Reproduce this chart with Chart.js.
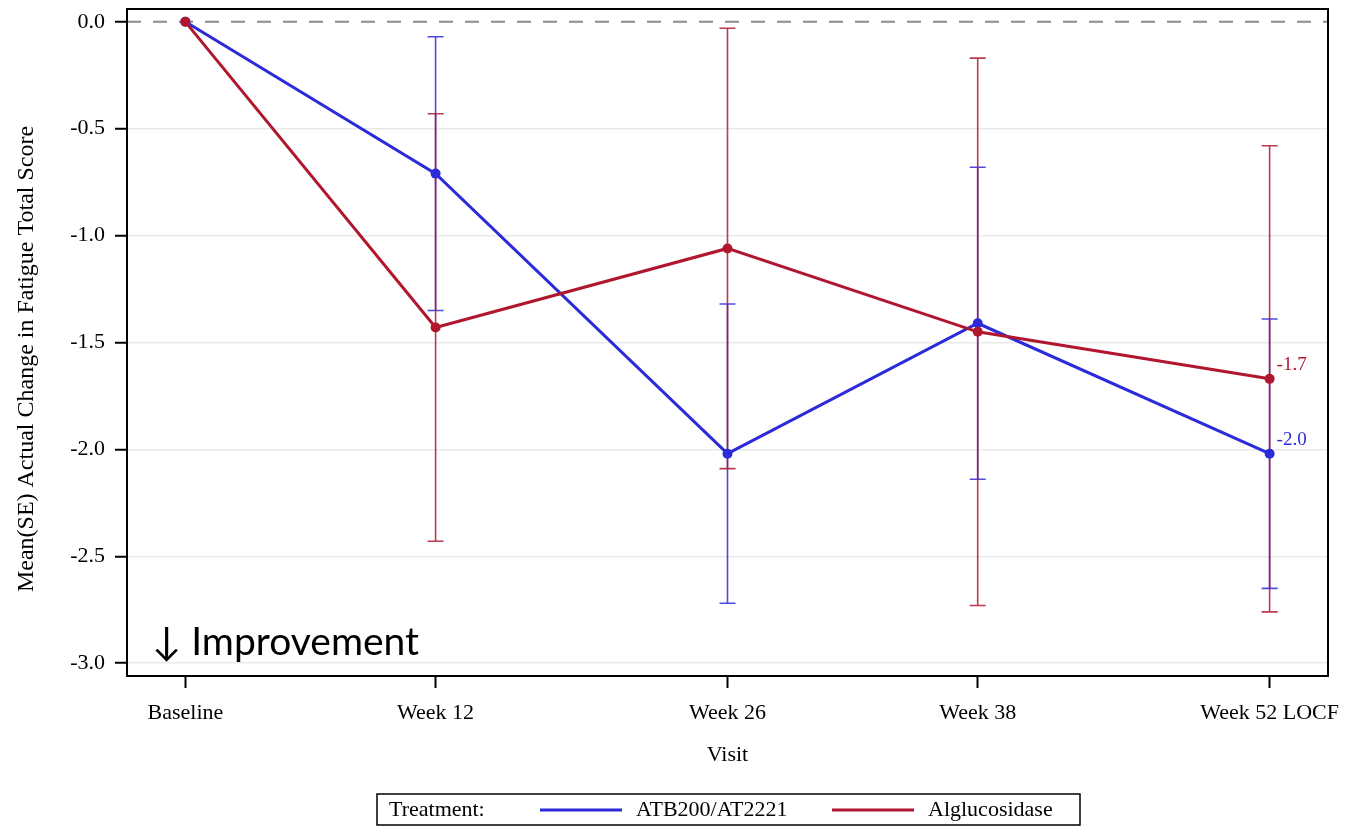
<!DOCTYPE html>
<html>
<head>
<meta charset="utf-8">
<script src="https://cdn.jsdelivr.net/npm/chart.js@4.4.1/dist/chart.umd.min.js"></script>
<style>
  html, body { margin: 0; padding: 0; background: #fff; }
  #wrap { width: 1347px; height: 826px; }
</style>
</head>
<body>
<div id="wrap"><canvas id="fatigueChart" width="1347" height="826"></canvas></div>
<script>
/* ---- data ---- */
const visitWeeks  = [0, 12, 26, 38, 52];
const visitLabels = ['Baseline', 'Week 12', 'Week 26', 'Week 38', 'Week 52 LOCF'];

// ATB200/AT2221
const atbMean = [0, -0.71, -2.02, -1.41, -2.02];
const atbSE   = [0, 0.64, 0.70, 0.73, 0.63];

// Alglucosidase
const algMean = [0, -1.43, -1.06, -1.45, -1.67];
const algSE   = [0, 1.00, 1.03, 1.28, 1.09];

const yTicks = [0, -0.5, -1.0, -1.5, -2.0, -2.5, -3.0];
const yTitle = 'Mean(SE) Actual Change in Fatigue Total Score';

const BLUE = '#2b2bd9';
const RED  = '#b0172e';
const SERIF = '"Liberation Serif", "Times New Roman", serif';

function pts(means) {
  return means.map((m, i) => ({ x: visitWeeks[i], y: m }));
}

// dessins en plus : ligne 0, barres d'erreur, étiquettes, cadre, légende
const fatigueExtras = {
  id: 'fatigueExtras',
  beforeDatasetsDraw(chart) {
    const { ctx, chartArea: a, scales: { x, y } } = chart;
    ctx.save();
    // ligne de référence pointillée
    const y0 = y.getPixelForValue(0);
    ctx.setLineDash([14, 12]);
    ctx.strokeStyle = '#8c8c8c';
    ctx.lineWidth = 2;
    ctx.beginPath();
    ctx.moveTo(a.left, y0);
    ctx.lineTo(a.right, y0);
    ctx.stroke();
    ctx.setLineDash([]);

    // barres d'erreur (moyenne ± SE)
    chart.data.datasets.forEach(ds => {
      ctx.strokeStyle = ds.errColor;
      ctx.lineWidth = 1.6;
      ds.data.forEach((p, i) => {
        const se = ds.se[i];
        if (!se) return;
        const px = x.getPixelForValue(p.x);
        const top = y.getPixelForValue(p.y + se);
        const bot = y.getPixelForValue(p.y - se);
        ctx.beginPath();
        ctx.moveTo(px, top); ctx.lineTo(px, bot);
        ctx.moveTo(px - 8, top); ctx.lineTo(px + 8, top);
        ctx.moveTo(px - 8, bot); ctx.lineTo(px + 8, bot);
        ctx.stroke();
      });
    });
    ctx.restore();
  },
  afterDatasetsDraw(chart) {
    const { ctx, scales: { x, y } } = chart;
    ctx.save();
    ctx.font = '19px ' + SERIF;
    ctx.textAlign = 'left';
    ctx.textBaseline = 'middle';
    chart.data.datasets.forEach(ds => {
      const last = ds.data[ds.data.length - 1];
      ctx.fillStyle = ds.borderColor;
      ctx.fillText(last.y.toFixed(1), x.getPixelForValue(last.x) + 7, y.getPixelForValue(last.y) - 14);
    });
    ctx.restore();
  },
  afterDraw(chart) {
    const { ctx, chartArea: a } = chart;
    ctx.save();
    // cadre complet
    ctx.strokeStyle = '#000';
    ctx.lineWidth = 2;
    ctx.strokeRect(a.left, a.top, a.right - a.left, a.bottom - a.top);

    // titre de l'axe Y (un peu décalé vers le bas comme l'original)
    ctx.fillStyle = '#000';
    ctx.font = '24px ' + SERIF;
    ctx.textAlign = 'center';
    ctx.textBaseline = 'middle';
    ctx.translate(27, 359);
    ctx.rotate(-Math.PI / 2);
    ctx.fillText(yTitle, 0, 0);
    ctx.setTransform(1, 0, 0, 1, 0, 0);

    // annotation
    ctx.font = '39px Lato, "Open Sans", sans-serif';
    ctx.textAlign = 'left';
    ctx.textBaseline = 'alphabetic';
    ctx.fillText('\u2193 Improvement', 152, 655);

    // légende
    ctx.lineWidth = 1.5;
    ctx.strokeRect(377, 794, 703, 31);
    ctx.font = '22px ' + SERIF;
    ctx.textBaseline = 'middle';
    ctx.fillText('Treatment:', 389, 810);
    const items = [
      { ds: chart.data.datasets[0], x0: 540 },
      { ds: chart.data.datasets[1], x0: 832 }
    ];
    items.forEach(it => {
      ctx.strokeStyle = it.ds.borderColor;
      ctx.lineWidth = 3;
      ctx.beginPath();
      ctx.moveTo(it.x0, 810);
      ctx.lineTo(it.x0 + 82, 810);
      ctx.stroke();
      ctx.fillStyle = '#000';
      ctx.fillText(it.ds.label, it.x0 + 96, 810);
    });
    ctx.restore();
  }
};

new Chart(document.getElementById('fatigueChart'), {
  type: 'line',
  data: {
    datasets: [
      {
        label: 'ATB200/AT2221',
        data: pts(atbMean),
        se: atbSE,
        borderColor: BLUE,
        backgroundColor: BLUE,
        errColor: 'rgba(43,43,217,0.85)',
        borderWidth: 3,
        pointRadius: 5,
        pointBorderWidth: 0,
        tension: 0,
        order: 1
      },
      {
        label: 'Alglucosidase',
        data: pts(algMean),
        se: algSE,
        borderColor: RED,
        backgroundColor: RED,
        errColor: 'rgba(176,23,46,0.85)',
        borderWidth: 3,
        pointRadius: 5,
        pointBorderWidth: 0,
        tension: 0,
        order: 0
      }
    ]
  },
  options: {
    responsive: false,
    animation: false,
    devicePixelRatio: 1,
    layout: { padding: { top: 9, right: 19, bottom: 50, left: 0 } },
    plugins: { legend: { display: false }, tooltip: { enabled: false } },
    scales: {
      x: {
        type: 'linear',
        min: -2.8,
        max: 54.8,
        afterBuildTicks: s => { s.ticks = visitWeeks.map(v => ({ value: v })); },
        afterFit: s => { s.height = 100; s.paddingLeft = 0; s.paddingRight = 0; },
        ticks: {
          color: '#000',
          font: { family: SERIF, size: 22 },
          padding: 12,
          maxRotation: 0,
          autoSkip: false,
          callback: v => visitLabels[visitWeeks.indexOf(v)]
        },
        grid: { drawOnChartArea: false, tickLength: 12, tickColor: '#000', tickWidth: 2 },
        border: { color: '#000', width: 2 },
        title: {
          display: true,
          text: 'Visit',
          color: '#000',
          font: { family: SERIF, size: 22 },
          padding: { top: 0, bottom: 8 }
        }
      },
      y: {
        min: -3.06,
        max: 0.06,
        afterBuildTicks: s => { s.ticks = yTicks.map(v => ({ value: v })); },
        afterFit: s => { s.width = 127; s.paddingTop = 0; s.paddingBottom = 0; },
        ticks: {
          color: '#000',
          font: { family: SERIF, size: 22 },
          padding: 10,
          callback: v => v.toFixed(1)
        },
        grid: {
          color: c => (c.tick && c.tick.value === 0) ? 'rgba(0,0,0,0)' : '#e9e9e9',
          lineWidth: 1.5,
          tickLength: 12,
          tickColor: '#000',
          tickWidth: 2
        },
        border: { color: '#000', width: 2 }
      }
    }
  },
  plugins: [fatigueExtras]
});
</script>
</body>
</html>
